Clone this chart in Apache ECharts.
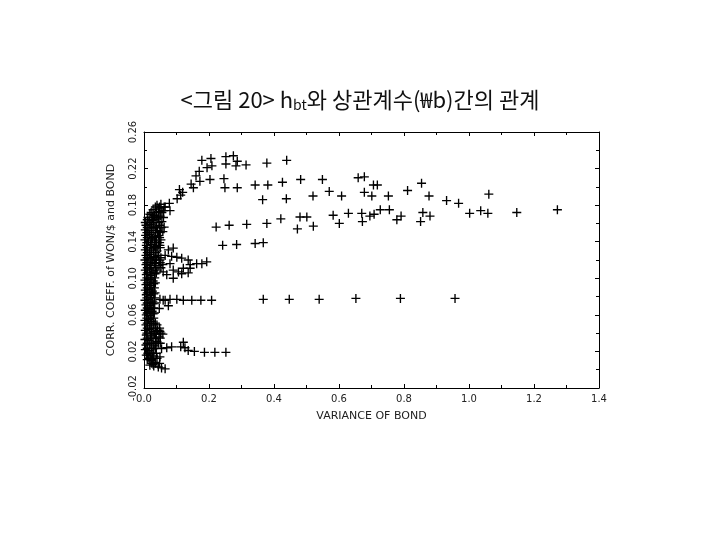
<!DOCTYPE html>
<html>
<head>
<meta charset="utf-8">
<script src="https://cdn.jsdelivr.net/npm/echarts@6/dist/echarts.min.js"></script>
<style>
  html, body { margin: 0; padding: 0; background: #fff; }
  #chart { width: 720px; height: 540px; }
</style>
</head>
<body>
<div id="chart"></div>
<script>
  // x tick labels / y tick labels
  const xTicks = [0.0, 0.2, 0.4, 0.6, 0.8, 1.0, 1.2, 1.4]
  const yTicks = [-0.02, 0.02, 0.06, 0.10, 0.14, 0.18, 0.22, 0.26]

  // upper arc and the scattered points to the right
  const upperX = [0.178, 0.206, 0.252, 0.275, 0.252, 0.287, 0.283, 0.314, 0.378, 0.194, 0.209, 0.170, 0.160, 0.203, 0.172, 0.246,
    0.145, 0.152, 0.249, 0.287, 0.342, 0.381, 0.109, 0.119, 0.113, 0.102, 0.365, 0.078, 0.062, 0.049, 0.080, 0.037, 0.029,
    0.222, 0.262, 0.316, 0.378, 0.242, 0.285, 0.342, 0.367, 0.439, 0.482, 0.549, 0.426, 0.438, 0.520, 0.570, 0.421, 0.480,
    0.501, 0.472, 0.521, 0.659, 0.678, 0.706, 0.718, 0.608, 0.678, 0.701, 0.752, 0.811, 0.854, 0.877, 1.061, 0.931, 0.968,
    0.582, 0.629, 0.670, 0.695, 0.708, 0.727, 0.755, 0.778, 0.791, 0.601, 0.672, 0.858, 0.880, 0.851, 1.002, 1.036, 1.058,
    1.147, 1.272]
  const upperY = [0.229, 0.231, 0.233, 0.234, 0.225, 0.228, 0.223, 0.224, 0.226, 0.221, 0.223, 0.217, 0.212, 0.208, 0.206, 0.209,
    0.203, 0.199, 0.199, 0.199, 0.202, 0.202, 0.197, 0.194, 0.191, 0.187, 0.186, 0.182, 0.178, 0.173, 0.174, 0.167, 0.164,
    0.156, 0.158, 0.159, 0.160, 0.136, 0.137, 0.138, 0.139, 0.229, 0.208, 0.208, 0.205, 0.187, 0.190, 0.195, 0.165, 0.167,
    0.167, 0.154, 0.157, 0.210, 0.211, 0.202, 0.202, 0.190, 0.194, 0.190, 0.190, 0.196, 0.204, 0.190, 0.192, 0.185, 0.182,
    0.169, 0.171, 0.171, 0.168, 0.170, 0.175, 0.175, 0.164, 0.168, 0.160, 0.162, 0.172, 0.168, 0.162, 0.171, 0.174, 0.171,
    0.172, 0.175]

  // branch near 0.077 and the bump near 0.11
  const midX = [0.367, 0.447, 0.539, 0.652, 0.789, 0.957, 0.121, 0.147, 0.175, 0.208, 0.059, 0.080, 0.101, 0.049, 0.065,
    0.193, 0.178, 0.162, 0.142, 0.136, 0.116, 0.101, 0.085, 0.080, 0.090, 0.106, 0.121, 0.136, 0.142, 0.070, 0.090, 0.116,
    0.059, 0.049, 0.065, 0.090, 0.075, 0.049]
  const midY = [0.077, 0.077, 0.077, 0.078, 0.078, 0.078, 0.076, 0.076, 0.076, 0.076, 0.076, 0.077, 0.077, 0.077, 0.076,
    0.118, 0.116, 0.116, 0.115, 0.120, 0.122, 0.123, 0.124, 0.116, 0.109, 0.107, 0.111, 0.106, 0.111, 0.104, 0.100, 0.105,
    0.107, 0.120, 0.125, 0.133, 0.131, 0.136]

  // lower branch
  const lowX = [0.121, 0.113, 0.126, 0.136, 0.155, 0.186, 0.218, 0.252, 0.085, 0.070, 0.054, 0.058, 0.049, 0.044, 0.054,
    0.065, 0.075, 0.047, 0.049, 0.034, 0.012, 0.022, 0.028]
  const lowY = [0.030, 0.025, 0.024, 0.021, 0.020, 0.019, 0.019, 0.019, 0.025, 0.024, 0.023, 0.039, 0.042, 0.003, 0.002,
    0.001, 0.070, 0.067, 0.014, 0.008, 0.016, 0.011, 0.006]

  // dense cluster along the left edge
  const denseX = [0.040, 0.052, 0.028, 0.045, 0.060, 0.018, 0.032, 0.050, 0.010, 0.024, 0.040, 0.055,
    0.006, 0.019, 0.034, 0.048, 0.062, 0.004, 0.015, 0.028, 0.042, 0.058, 0.005, 0.017, 0.031, 0.045,
    0.003, 0.014, 0.026, 0.038, 0.052, 0.007, 0.020, 0.033, 0.044, 0.004, 0.016, 0.029, 0.040,
    0.006, 0.018, 0.030, 0.045, 0.003, 0.015, 0.027, 0.038, 0.006, 0.019, 0.032, 0.046, 0.058,
    0.004, 0.016, 0.028, 0.040, 0.007, 0.020, 0.034, 0.003, 0.015, 0.028, 0.006, 0.018, 0.030,
    0.004, 0.016, 0.026, 0.007, 0.019, 0.030, 0.003, 0.015, 0.027, 0.006, 0.018, 0.028,
    0.004, 0.015, 0.025, 0.007, 0.019, 0.028, 0.003, 0.014, 0.024, 0.006, 0.018, 0.030, 0.040,
    0.004, 0.016, 0.028, 0.042, 0.007, 0.020, 0.033, 0.046, 0.003, 0.015, 0.028, 0.040,
    0.006, 0.018, 0.031, 0.044, 0.004, 0.016, 0.030, 0.007, 0.019, 0.030, 0.010, 0.022, 0.018, 0.030]
  const denseY = [0.180, 0.181, 0.175, 0.176, 0.174, 0.170, 0.169, 0.168, 0.164, 0.163, 0.165, 0.162,
    0.158, 0.159, 0.157, 0.158, 0.156, 0.153, 0.152, 0.154, 0.152, 0.151, 0.147, 0.148, 0.146, 0.147,
    0.142, 0.141, 0.143, 0.141, 0.142, 0.136, 0.137, 0.135, 0.136, 0.131, 0.130, 0.132, 0.130,
    0.125, 0.126, 0.124, 0.125, 0.120, 0.121, 0.119, 0.120, 0.115, 0.114, 0.116, 0.114, 0.115,
    0.109, 0.110, 0.108, 0.109, 0.104, 0.103, 0.105, 0.098, 0.099, 0.097, 0.093, 0.092, 0.094,
    0.087, 0.088, 0.086, 0.082, 0.081, 0.083, 0.076, 0.077, 0.075, 0.071, 0.070, 0.072,
    0.065, 0.066, 0.064, 0.060, 0.059, 0.061, 0.054, 0.055, 0.053, 0.049, 0.048, 0.050, 0.049,
    0.043, 0.044, 0.042, 0.043, 0.038, 0.037, 0.039, 0.036, 0.033, 0.032, 0.034, 0.031,
    0.027, 0.028, 0.026, 0.029, 0.022, 0.021, 0.023, 0.016, 0.017, 0.015, 0.011, 0.010, 0.005, 0.004]

  // more of the dense cluster, in between the rows above
  const dense2X = [0.035, 0.048, 0.065, 0.022, 0.038, 0.055, 0.012, 0.026, 0.044, 0.060, 0.004, 0.016, 0.030, 0.046,
    0.010, 0.023, 0.038, 0.053, 0.009, 0.022, 0.036, 0.050, 0.010, 0.023, 0.035, 0.048, 0.009, 0.021, 0.032, 0.048,
    0.010, 0.023, 0.035, 0.050, 0.010, 0.022, 0.036, 0.010, 0.022, 0.034, 0.052, 0.009, 0.021, 0.036, 0.050,
    0.010, 0.022, 0.035, 0.052, 0.010, 0.024, 0.038, 0.009, 0.021, 0.033, 0.010, 0.022, 0.035, 0.010, 0.021, 0.032,
    0.010, 0.023, 0.034, 0.009, 0.021, 0.033, 0.010, 0.022, 0.033, 0.010, 0.021, 0.030, 0.010, 0.022, 0.032,
    0.009, 0.020, 0.030, 0.010, 0.023, 0.035, 0.010, 0.022, 0.035, 0.048, 0.009, 0.023, 0.038, 0.052,
    0.010, 0.022, 0.035, 0.050, 0.010, 0.024, 0.037, 0.050, 0.010, 0.023, 0.036, 0.012, 0.025, 0.038,
    0.015, 0.027, 0.040, 0.024, 0.036, 0.048]
  const dense2Y = [0.178, 0.178, 0.178, 0.172, 0.172, 0.172, 0.1665, 0.1665, 0.1665, 0.1665, 0.161, 0.161, 0.161, 0.161,
    0.1555, 0.1555, 0.1555, 0.1555, 0.150, 0.150, 0.150, 0.150, 0.1445, 0.1445, 0.1445, 0.1445, 0.139, 0.139, 0.139, 0.139,
    0.1335, 0.1335, 0.1335, 0.1335, 0.128, 0.128, 0.128, 0.1225, 0.1225, 0.1225, 0.1225, 0.117, 0.117, 0.117, 0.117,
    0.1115, 0.1115, 0.1115, 0.1115, 0.106, 0.106, 0.106, 0.1005, 0.1005, 0.1005, 0.095, 0.095, 0.095, 0.0895, 0.0895, 0.0895,
    0.084, 0.084, 0.084, 0.0785, 0.0785, 0.0785, 0.073, 0.073, 0.073, 0.0675, 0.0675, 0.0675, 0.062, 0.062, 0.062,
    0.0565, 0.0565, 0.0565, 0.051, 0.051, 0.051, 0.0455, 0.0455, 0.0455, 0.0455, 0.040, 0.040, 0.040, 0.040,
    0.0345, 0.0345, 0.0345, 0.0345, 0.029, 0.029, 0.029, 0.029, 0.0235, 0.0235, 0.0235, 0.018, 0.018, 0.018,
    0.0125, 0.0125, 0.0125, 0.007, 0.007, 0.007]

  const zip = (xs, ys) => xs.map((x, i) => [x, ys[i]])
  const points = [].concat(zip(upperX, upperY), zip(midX, midY), zip(lowX, lowY), zip(denseX, denseY), zip(dense2X, dense2Y))

  const cross = 'path://M0,3.4H8V4.6H0Z M3.4,0H4.6V8H3.4Z'
  const font = 'DejaVu Sans'

  const chart = echarts.init(document.getElementById('chart'))

  const tickBase = {
    axisLine: { show: true, onZero: false, lineStyle: { color: '#000', width: 1 } },
    axisTick: { show: true, inside: true, length: 4, lineStyle: { color: '#000' } },
    minorTick: { show: true, splitNumber: 2, length: 3, lineStyle: { color: '#000' } },
    splitLine: { show: false },
    minorSplitLine: { show: false }
  }

  const option = {
    animation: false,
    backgroundColor: '#fff',
    title: {
      text: '<그림 20> h{sub|bt}와 상관계수(₩b)간의 관계',
      left: 'center',
      top: 83,
      textStyle: {
        fontFamily: 'Noto Sans CJK KR',
        fontSize: 22,
        fontWeight: 'normal',
        color: '#111',
        rich: {
          sub: { fontFamily: 'Noto Sans CJK KR', fontSize: 14, color: '#111', verticalAlign: 'bottom', padding: [10, 0, 0, 0] }
        }
      }
    },
    grid: { left: 144, right: 121, top: 132, bottom: 152 },
    xAxis: [
      {
        type: 'value',
        min: 0,
        max: 1.4,
        interval: 0.2,
        name: 'VARIANCE OF BOND',
        nameLocation: 'middle',
        nameGap: 23,
        nameTextStyle: { fontFamily: font, fontSize: 11, color: '#222' },
        axisLabel: {
          margin: 6,
          fontFamily: font,
          fontSize: 10,
          color: '#222',
          formatter: (v) => {
            const t = xTicks.find((k) => Math.abs(k - v) < 1e-6)
            return t === undefined ? '' : t.toFixed(1)
          }
        },
        ...tickBase
      },
      {
        type: 'value',
        position: 'top',
        min: 0,
        max: 1.4,
        interval: 0.2,
        axisLabel: { show: false },
        ...tickBase
      }
    ],
    yAxis: [
      {
        type: 'value',
        min: -0.02,
        max: 0.26,
        interval: 0.04,
        name: 'CORR. COEFF. of WON/$ and BOND',
        nameLocation: 'middle',
        nameGap: 27,
        nameTextStyle: { fontFamily: font, fontSize: 11, color: '#222' },
        axisLabel: {
          rotate: 90,
          margin: 6,
          fontFamily: font,
          fontSize: 10,
          color: '#222',
          formatter: (v) => {
            const t = yTicks.find((k) => Math.abs(k - v) < 1e-6)
            return t === undefined ? '' : t.toFixed(2)
          }
        },
        ...tickBase
      },
      {
        type: 'value',
        position: 'right',
        min: -0.02,
        max: 0.26,
        interval: 0.04,
        axisLabel: { show: false },
        ...tickBase
      }
    ],
    series: [
      {
        type: 'scatter',
        xAxisIndex: 0,
        yAxisIndex: 0,
        symbol: cross,
        symbolSize: 9,
        silent: true,
        itemStyle: { color: '#000', opacity: 1 },
        data: points
      }
    ]
  }

  chart.setOption(option)
</script>
</body>
</html>
